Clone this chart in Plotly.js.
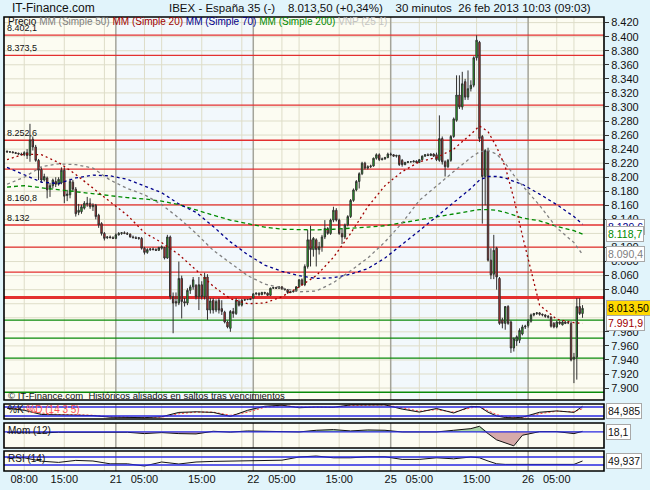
<!DOCTYPE html>
<html>
<head>
<meta charset="utf-8">
<script src="https://cdn.plot.ly/plotly-3.0.1.min.js"></script>
<style>
  html, body { margin: 0; padding: 0; background: #e1f4fb; }
  #chart { width: 650px; height: 490px; }
</style>
</head>
<body>
<div id="chart"></div>
<script>
// 30 minute bars, IBEX 35 future, 20 feb 05:00 -> 26 feb 09:30
let opens = [
    8237, 8236, 8236, 8235, 8234, 8233, 8232, 8235, 8231, 8254,
    8243, 8224, 8211, 8196, 8199, 8183, 8188, 8194, 8190, 8192,
    8210, 8174, 8175, 8193, 8183, 8150, 8151, 8156, 8163, 8163,
    8158, 8160, 8146, 8134, 8120, 8114, 8115, 8114, 8113, 8118,
    8120, 8121, 8120, 8119, 8115, 8114, 8114, 8113, 8099, 8093,
    8097, 8098, 8097, 8096, 8099, 8100, 8085, 8115, 8030, 8023,
    8021, 8056, 8023, 8021, 8039, 8044, 8046, 8030, 8047, 8030,
    8058, 8011, 8025, 8011, 8025, 8013, 8008, 7994, 7985, 8009,
    8006, 8023, 8018, 8025, 8026, 8026, 8028, 8034, 8035, 8033,
    8036, 8035, 8032, 8042, 8043, 8042, 8044, 8041, 8040, 8036,
    8037, 8038, 8044, 8054, 8047, 8073, 8111, 8097, 8111, 8097,
    8101, 8115, 8127, 8120, 8139, 8153, 8139, 8120, 8115, 8132,
    8144, 8167, 8182, 8194, 8205, 8220, 8213, 8215, 8216, 8227,
    8232, 8225, 8226, 8228, 8233, 8232, 8230, 8231, 8224, 8218,
    8221, 8222, 8222, 8223, 8221, 8225, 8230, 8232, 8231, 8233,
    8232, 8224, 8255, 8222, 8215, 8224, 8258, 8281, 8317, 8300,
    8336, 8314, 8326, 8331, 8370, 8392, 8258, 8201, 8238, 8082,
    8062, 8099, 8056, 7997, 7992, 8016, 7994, 7957, 7967, 7968,
    7977, 7987, 7989, 7995, 8004, 8006, 8007, 8005, 8004, 8002,
    8001, 7992, 7987, 7994, 7990, 7994, 7993, 7992, 7941, 7944,
    8016, 8006
];
let highs = [
    8238, 8237, 8237, 8236, 8235, 8235, 8237, 8240, 8276, 8258,
    8246, 8226, 8214, 8205, 8201, 8192, 8198, 8200, 8200, 8214,
    8214, 8182, 8198, 8196, 8186, 8162, 8161, 8166, 8172, 8170,
    8163, 8162, 8148, 8136, 8122, 8116, 8117, 8116, 8120, 8122,
    8122, 8123, 8122, 8120, 8117, 8116, 8115, 8115, 8101, 8099,
    8099, 8100, 8099, 8101, 8103, 8101, 8118, 8117, 8036, 8036,
    8080, 8060, 8028, 8042, 8047, 8058, 8048, 8058, 8052, 8064,
    8062, 8028, 8028, 8026, 8028, 8025, 8010, 7996, 8011, 8014,
    8028, 8026, 8027, 8027, 8027, 8028, 8035, 8036, 8036, 8037,
    8037, 8036, 8043, 8044, 8044, 8045, 8045, 8042, 8041, 8038,
    8039, 8045, 8055, 8056, 8076, 8125, 8131, 8115, 8113, 8108,
    8118, 8139, 8129, 8141, 8158, 8156, 8141, 8127, 8134, 8146,
    8169, 8184, 8196, 8207, 8222, 8222, 8217, 8218, 8228, 8234,
    8234, 8228, 8229, 8235, 8235, 8233, 8232, 8232, 8226, 8222,
    8223, 8223, 8224, 8224, 8226, 8231, 8233, 8234, 8234, 8234,
    8235, 8288, 8258, 8224, 8226, 8260, 8285, 8345, 8345, 8350,
    8340, 8352, 8338, 8372, 8402, 8394, 8260, 8240, 8242, 8099,
    8118, 8101, 8058, 8000, 8016, 8018, 7996, 7972, 7975, 7985,
    7990, 7990, 7998, 8006, 8007, 8008, 8008, 8006, 8005, 8004,
    8002, 7994, 7996, 7995, 7996, 7995, 7995, 7995, 7950, 8028,
    8028, 8018
];
let lows = [
    8235, 8235, 8234, 8233, 8232, 8231, 8230, 8226, 8222, 8238,
    8222, 8196, 8192, 8194, 8170, 8172, 8184, 8186, 8188, 8190,
    8163, 8166, 8170, 8180, 8144, 8146, 8148, 8154, 8158, 8155,
    8152, 8140, 8128, 8117, 8110, 8112, 8113, 8112, 8112, 8117,
    8118, 8119, 8118, 8114, 8113, 8112, 8111, 8097, 8090, 8091,
    8095, 8096, 8095, 8095, 8097, 8083, 8084, 8026, 7978, 8016,
    8018, 7999, 8016, 8018, 8034, 8040, 8026, 8011, 8026, 8026,
    7997, 8006, 8006, 8008, 8006, 8004, 7992, 7985, 7980, 8000,
    8004, 8016, 8016, 8024, 8025, 8025, 8027, 8032, 8031, 8032,
    8033, 8031, 8031, 8041, 8041, 8041, 8040, 8039, 8034, 8035,
    8036, 8037, 8043, 8046, 8045, 8070, 8073, 8087, 8073, 8090,
    8094, 8112, 8118, 8118, 8136, 8137, 8118, 8105, 8112, 8130,
    8142, 8165, 8180, 8184, 8203, 8211, 8211, 8213, 8215, 8225,
    8223, 8224, 8225, 8227, 8231, 8229, 8228, 8216, 8215, 8217,
    8220, 8221, 8221, 8220, 8220, 8224, 8229, 8230, 8230, 8229,
    8223, 8222, 8218, 8201, 8213, 8222, 8256, 8279, 8297, 8296,
    8310, 8310, 8322, 8328, 8366, 8250, 8134, 8160, 8080, 8055,
    8055, 8040, 7990, 7985, 7983, 7990, 7950, 7952, 7960, 7964,
    7975, 7984, 7986, 7993, 8002, 8004, 8003, 8002, 8000, 7999,
    7986, 7985, 7985, 7990, 7989, 7991, 7991, 7938, 7907, 7912,
    8004, 8000
];
let closes = [
    8236, 8236, 8235, 8234, 8233, 8232, 8235, 8231, 8253, 8243,
    8224, 8210, 8196, 8201, 8182, 8188, 8196, 8190, 8197, 8210,
    8173, 8176, 8194, 8183, 8148, 8153, 8158, 8163, 8162, 8158,
    8160, 8144, 8132, 8120, 8113, 8115, 8114, 8113, 8118, 8120,
    8121, 8120, 8119, 8115, 8114, 8113, 8113, 8099, 8093, 8097,
    8098, 8097, 8096, 8100, 8101, 8085, 8115, 8030, 8021, 8021,
    8056, 8023, 8021, 8039, 8044, 8054, 8030, 8047, 8030, 8058,
    8011, 8024, 8011, 8023, 8011, 8009, 7994, 7987, 8009, 8006,
    8025, 8018, 8025, 8026, 8026, 8027, 8034, 8035, 8033, 8036,
    8035, 8032, 8042, 8043, 8042, 8044, 8041, 8040, 8036, 8037,
    8038, 8044, 8054, 8047, 8073, 8111, 8097, 8113, 8097, 8101,
    8115, 8127, 8120, 8139, 8153, 8139, 8120, 8115, 8132, 8144,
    8167, 8182, 8194, 8205, 8220, 8213, 8215, 8216, 8227, 8232,
    8225, 8226, 8228, 8233, 8232, 8230, 8231, 8218, 8218, 8221,
    8222, 8222, 8223, 8221, 8225, 8230, 8232, 8231, 8233, 8230,
    8225, 8255, 8222, 8215, 8224, 8258, 8283, 8317, 8300, 8333,
    8314, 8326, 8331, 8370, 8395, 8255, 8201, 8238, 8082, 8061,
    8096, 8058, 7992, 7992, 8016, 7992, 7957, 7970, 7973, 7982,
    7987, 7988, 7995, 8004, 8006, 8007, 8005, 8004, 8002, 8001,
    7988, 7987, 7994, 7992, 7994, 7992, 7993, 7940, 7944, 8016,
    8006, 8013.5
];

let sampleBars = [0, 6, 12, 18, 24, 30, 36, 42, 48, 54, 60, 66, 72, 78, 84, 90, 96, 102, 108, 114,
    120, 126, 132, 138, 144, 150, 156, 162, 165, 168, 171, 174, 177, 180, 186, 192, 198, 201];
let ma20 = [8225, 8233, 8232, 8221, 8204, 8184, 8165, 8146, 8121, 8107, 8090, 8068, 8045, 8027, 8020, 8021, 8030, 8044, 8060, 8086,
    8120, 8158, 8188, 8208, 8222, 8228, 8240, 8261, 8273, 8265, 8243, 8215, 8170, 8117, 8018, 7998, 7993, 7992];
let ma50 = [8190, 8200, 8215, 8219, 8218, 8213, 8196, 8184, 8175, 8161, 8142, 8120, 8096, 8078, 8060, 8048, 8043, 8037, 8038, 8050,
    8067, 8085, 8108, 8135, 8167, 8188, 8208, 8228, 8236, 8238, 8233, 8220, 8203, 8188, 8160, 8128, 8107, 8090];
let ma70 = [8214, 8203, 8193, 8191, 8199, 8203, 8202, 8197, 8188, 8178, 8162, 8150, 8130, 8108, 8090, 8075, 8066, 8060, 8056, 8057,
    8062, 8070, 8085, 8104, 8124, 8144, 8164, 8184, 8196, 8201, 8201, 8199, 8194, 8190, 8176, 8161, 8144, 8133];
let ma200 = [8186, 8188, 8185, 8182, 8180, 8176, 8174, 8171, 8169, 8166, 8161, 8153, 8146, 8139, 8134, 8129, 8126, 8125, 8125, 8126,
    8127, 8129, 8131, 8135, 8140, 8143, 8148, 8152, 8154, 8154, 8153, 8150, 8146, 8142, 8138, 8130, 8124, 8119];
let stochK = [72, 58, 30, 29, 29, 23, 12, 9, 9, 15, 44, 48, 44, 17, 58, 85, 92, 75, 80, 78,
    94, 94, 94, 66, 46, 70, 40, 84, 82, 45, 20, 10, 8, 12, 45, 54, 44, 85];
let stochD = [74, 66, 40, 30, 29, 25, 15, 10, 9, 12, 35, 46, 46, 25, 45, 78, 90, 80, 80, 78,
    90, 94, 94, 75, 52, 62, 46, 74, 83, 55, 30, 14, 9, 9, 35, 52, 48, 68];
let momentum = [-20, -30, -30, -10, -10, -20, 0, -10, -50, -20, -50, -60, 20, -5, 30, 20, 10, 0, 50, 70,
    30, 60, 50, 0, 0, 0, 50, 100, 170, -50, -240, -330, -420, -100, 10, 10, -50, 18];
let rsi = [66, 66, 49, 43, 53, 50, 36, 36, 25, 45, 35, 45, 48, 50, 52, 53, 54, 70, 75, 66,
    66, 71, 71, 58, 58, 66, 61, 70, 66, 50, 36, 33, 33, 33, 33, 33, 33, 50];

let resistances = [8402.1, 8373.5, 8302.6, 8252.6, 8211.5, 8160.8, 8132, 8100.6, 8065, 8029];
let supports = [7996.7, 7971, 7942.6, 7894];
let levelLabels = ['8.402,1', '8.373,5', '8.252,6', '8.160,8', '8.132'];
let levelLabelValues = [8402.1, 8373.5, 8252.6, 8160.8, 8132];

// right axis: every 20 points; the ones under the value boxes are not shown
let priceTicks = [7900, 7920, 7940, 7960, 7980, 8040, 8060, 8080, 8100, 8140, 8160, 8180, 8200,
    8220, 8240, 8260, 8280, 8300, 8320, 8340, 8360, 8380, 8400, 8420];
let priceGrid = [7900, 7920, 7940, 7960, 7980, 8000, 8020, 8040, 8060, 8080, 8100, 8120, 8140, 8160, 8180, 8200,
    8220, 8240, 8260, 8280, 8300, 8320, 8340, 8360, 8380, 8400, 8420];

let xTickTimes = ['2013-02-20 08:00', '2013-02-20 15:00', '2013-02-20 22:00',
    '2013-02-21 00:00', '2013-02-21 05:00', '2013-02-21 08:00', '2013-02-21 15:00', '2013-02-21 22:00',
    '2013-02-22 00:00', '2013-02-22 05:00', '2013-02-22 08:00', '2013-02-22 15:00', '2013-02-22 22:00',
    '2013-02-25 00:00', '2013-02-25 05:00', '2013-02-25 08:00', '2013-02-25 15:00', '2013-02-25 22:00',
    '2013-02-26 00:00', '2013-02-26 05:00', '2013-02-26 08:00'];
let xTickText = ['08:00', '15:00', '', '21', '05:00', '', '15:00', '', '22', '05:00', '', '15:00', '',
    '25', '05:00', '', '15:00', '', '26', '05:00', ''];
let dayStarts = ['2013-02-21 00:00', '2013-02-22 00:00', '2013-02-25 00:00', '2013-02-26 00:00'];

let font = 'Liberation Sans, Arial, sans-serif';

function pad(n) {
    return (n < 10 ? '0' : '') + n;
}

function makeTimes(count) {
    let out = [];
    let t = Date.UTC(2013, 1, 20, 5, 0);
    while (out.length < count) {
        let d = new Date(t);
        let wd = d.getUTCDay();
        if (wd !== 0 && wd !== 6) {
            out.push(d.getUTCFullYear() + '-' + pad(d.getUTCMonth() + 1) + '-' + pad(d.getUTCDate()) +
                ' ' + pad(d.getUTCHours()) + ':' + pad(d.getUTCMinutes()));
        }
        t += 30 * 60000;
    }
    return out;
}

// pixel -> paper helpers (plot area is x 4..604, y 17..471)
function px(x) { return (x - 4) / 600; }
function py(y) { return (471 - y) / 454; }

let times = makeTimes(closes.length);
let sampleTimes = sampleBars.map(function (i) { return times[i]; });

function maTrace(values, color, dash) {
    return {
        x: sampleTimes, y: values, type: 'scatter', mode: 'lines',
        line: {color: color, width: 1.3, dash: dash},
        xaxis: 'x', yaxis: 'y', hoverinfo: 'skip'
    };
}

let data = [
    maTrace(ma200, '#008a00', '4px,3px'),
    maTrace(ma70, '#00008c', '3px,3px'),
    maTrace(ma50, '#808080', '3px,3px'),
    maTrace(ma20, '#a00000', '2px,3px'),
    {
        type: 'candlestick', x: times, open: opens, high: highs, low: lows, close: closes,
        xaxis: 'x', yaxis: 'y', hoverinfo: 'skip', whiskerwidth: 0,
        increasing: {line: {color: '#303030', width: 1}, fillcolor: '#22d022'},
        decreasing: {line: {color: '#303030', width: 1}, fillcolor: '#e82a2a'}
    },
    // stochastic
    {
        x: sampleTimes, y: stochD, type: 'scatter', mode: 'lines',
        line: {color: '#ff4a4a', width: 1, dash: '2px,2px'}, xaxis: 'x', yaxis: 'y2', hoverinfo: 'skip'
    },
    {
        x: sampleTimes, y: stochK, type: 'scatter', mode: 'lines', fill: 'tonexty',
        fillcolor: 'rgba(150,150,150,0.45)',
        line: {color: '#111111', width: 1}, xaxis: 'x', yaxis: 'y2', hoverinfo: 'skip'
    },
    // momentum
    {
        x: sampleTimes, y: momentum.map(function (v) { return Math.max(v, 0); }),
        type: 'scatter', mode: 'lines', fill: 'tozeroy', fillcolor: '#a9d6a6',
        line: {width: 0}, xaxis: 'x', yaxis: 'y3', hoverinfo: 'skip'
    },
    {
        x: sampleTimes, y: momentum.map(function (v) { return Math.min(v, 0); }),
        type: 'scatter', mode: 'lines', fill: 'tozeroy', fillcolor: '#d6aaaa',
        line: {width: 0}, xaxis: 'x', yaxis: 'y3', hoverinfo: 'skip'
    },
    {
        x: sampleTimes, y: momentum, type: 'scatter', mode: 'lines',
        line: {color: '#111111', width: 1}, xaxis: 'x', yaxis: 'y3', hoverinfo: 'skip'
    },
    // rsi
    {
        x: sampleTimes, y: rsi, type: 'scatter', mode: 'lines',
        line: {color: '#111111', width: 1}, xaxis: 'x', yaxis: 'y4', hoverinfo: 'skip'
    }
];

let panels = [
    {axis: 'y', top: 17, bottom: 400},
    {axis: 'y2', top: 404, bottom: 419},
    {axis: 'y3', top: 423, bottom: 448},
    {axis: 'y4', top: 451, bottom: 471}
];

let shapes = [];

// day tint in the price panel (21 and 25 feb)
[['2013-02-21 00:00', '2013-02-22 00:00'], ['2013-02-25 00:00', '2013-02-26 00:00']].forEach(function (d) {
    shapes.push({
        type: 'rect', xref: 'x', yref: 'y domain', x0: d[0], x1: d[1], y0: 0, y1: 1,
        fillcolor: '#f2f8fc', line: {width: 0}, layer: 'below'
    });
});

// grid: horizontal in the price panel, vertical in every panel
priceGrid.forEach(function (v) {
    shapes.push({
        type: 'line', xref: 'x domain', yref: 'y', x0: 0, x1: 1, y0: v, y1: v,
        line: {color: '#deddc8', width: 1}, layer: 'below'
    });
});
panels.forEach(function (p) {
    xTickTimes.forEach(function (t) {
        let isDay = dayStarts.indexOf(t) >= 0;
        shapes.push({
            type: 'line', xref: 'x', yref: p.axis + ' domain', x0: t, x1: t, y0: 0, y1: 1,
            line: {color: isDay ? '#a4a49a' : '#deddc8', width: isDay ? 1.5 : 1}, layer: 'below'
        });
    });
});

resistances.forEach(function (v, i) {
    shapes.push({
        type: 'line', xref: 'x domain', yref: 'y', x0: 0, x1: 1, y0: v, y1: v,
        line: {color: '#e33030', width: i === resistances.length - 1 ? 3 : 1.3}, layer: 'below'
    });
});
supports.forEach(function (v) {
    shapes.push({
        type: 'line', xref: 'x domain', yref: 'y', x0: 0, x1: 1, y0: v, y1: v,
        line: {color: '#0a8a0a', width: 1.3}, layer: 'below'
    });
});

[['y2', 80], ['y2', 20], ['y3', 0], ['y4', 70], ['y4', 30]].forEach(function (b) {
    shapes.push({
        type: 'line', xref: 'x domain', yref: b[0], x0: 0, x1: 1, y0: b[1], y1: b[1],
        line: {color: '#2828e0', width: 1.3}, layer: 'above'
    });
});

panels.forEach(function (p) {
    shapes.push({
        type: 'rect', xref: 'paper', yref: 'paper', x0: 0, x1: 1, y0: py(p.bottom), y1: py(p.top),
        line: {color: '#000000', width: 1.6}, fillcolor: 'rgba(0,0,0,0)', layer: 'above'
    });
});

function note(text, x, y, size, color) {
    return {
        text: text, xref: 'paper', yref: 'paper', x: px(x), y: py(y),
        xanchor: 'left', yanchor: 'middle', showarrow: false,
        font: {family: font, size: size, color: color || '#111111'}
    };
}

function valueBox(text, yValue, yref, color, bg) {
    return {
        text: text, xref: 'paper', yref: yref, x: px(606), y: yValue,
        xanchor: 'left', yanchor: 'middle', showarrow: false,
        bgcolor: bg || '#ffffff', bordercolor: '#a8a8a8', borderwidth: 1, borderpad: 1,
        font: {family: font, size: 10.5, color: color}
    };
}

let annotations = [
    note('IT-Finance.com', 10, 8, 12, '#111111'),
    note('IBEX - España 35 (-)&nbsp;&nbsp;&nbsp;&nbsp;8.013,50 (+0,34%)&nbsp;&nbsp;&nbsp;&nbsp;30 minutos&nbsp;&nbsp;26 feb 2013 10:03 (09:03)',
        167, 8, 11.5, '#111111'),
    note('Precio <span style="color:#808080">MM (Simple 50)</span> <span style="color:#a00000">MM (Simple 20)</span> ' +
        '<span style="color:#00008c">MM (Simple 70)</span> <span style="color:#008a00">MM (Simple 200)</span> ' +
        '<span style="color:#c4c4c4">VNP (25 1)</span>', 6, 22, 10, '#111111'),
    note('© IT-Finance.com&nbsp;&nbsp;Históricos alisados en saltos tras vencimientos', 6, 395, 9.5, '#111111'),
    note('%K <span style="color:#ff5050">%D (14 3 5)</span>', 6, 409, 10, '#111111'),
    note('Mom (12)', 6, 430, 10, '#111111'),
    note('RSI (14)', 6, 458, 10, '#111111')
];

levelLabels.forEach(function (t, i) {
    annotations.push({
        text: t, xref: 'paper', yref: 'y', x: px(5), y: levelLabelValues[i],
        xanchor: 'left', yanchor: 'bottom', showarrow: false,
        font: {family: font, size: 9, color: '#111111'}
    });
});

annotations.push(valueBox('8.129,6', 8129.6, 'y', '#00008c'));
annotations.push(valueBox('8.118,7', 8118.7, 'y', '#008a00'));
annotations.push(valueBox('8.090,4', 8090.4, 'y', '#808080'));
annotations.push(valueBox('8.013,50', 8013.5, 'y', '#000000', '#ffd800'));
annotations.push(valueBox('7.991,9', 7991.9, 'y', '#a00000'));
annotations.push(valueBox('84,985', py(411), 'paper', '#111111'));
annotations.push(valueBox('18,1', py(432), 'paper', '#111111'));
annotations.push(valueBox('49,937', py(461), 'paper', '#111111'));

let layout = {
    width: 650, height: 490,
    margin: {l: 4, r: 46, t: 17, b: 19},
    paper_bgcolor: '#e1f4fb',
    plot_bgcolor: '#fcfcf2',
    separators: ',.',
    showlegend: false,
    hovermode: false,
    font: {family: font, size: 11, color: '#111111'},
    xaxis: {
        type: 'date', anchor: 'y4',
        range: ['2013-02-20 04:28', '2013-02-26 13:15'],
        rangebreaks: [{bounds: ['sat', 'mon']}],
        rangeslider: {visible: false},
        tickmode: 'array', tickvals: xTickTimes, ticktext: xTickText,
        ticks: '', showgrid: false, zeroline: false, showline: false,
        tickfont: {family: font, size: 11, color: '#111111'}
    },
    yaxis: {
        domain: [py(400), 1], range: [7883, 8428], side: 'right',
        tickmode: 'array', tickvals: priceTicks, tickformat: ',d',
        ticks: 'outside', ticklen: 4, tickcolor: '#333333',
        showgrid: false, zeroline: false, showline: false,
        tickfont: {family: font, size: 11, color: '#111111'}
    },
    yaxis2: {
        domain: [py(419), py(404)], range: [0, 100],
        showticklabels: false, showgrid: false, zeroline: false
    },
    yaxis3: {
        domain: [py(448), py(423)], range: [-485, 270],
        showticklabels: false, showgrid: false, zeroline: false
    },
    yaxis4: {
        domain: [0, py(451)], range: [0, 100],
        showticklabels: false, showgrid: false, zeroline: false
    },
    shapes: shapes,
    annotations: annotations
};

Plotly.newPlot('chart', data, layout, {displayModeBar: false, staticPlot: true});
</script>
</body>
</html>
